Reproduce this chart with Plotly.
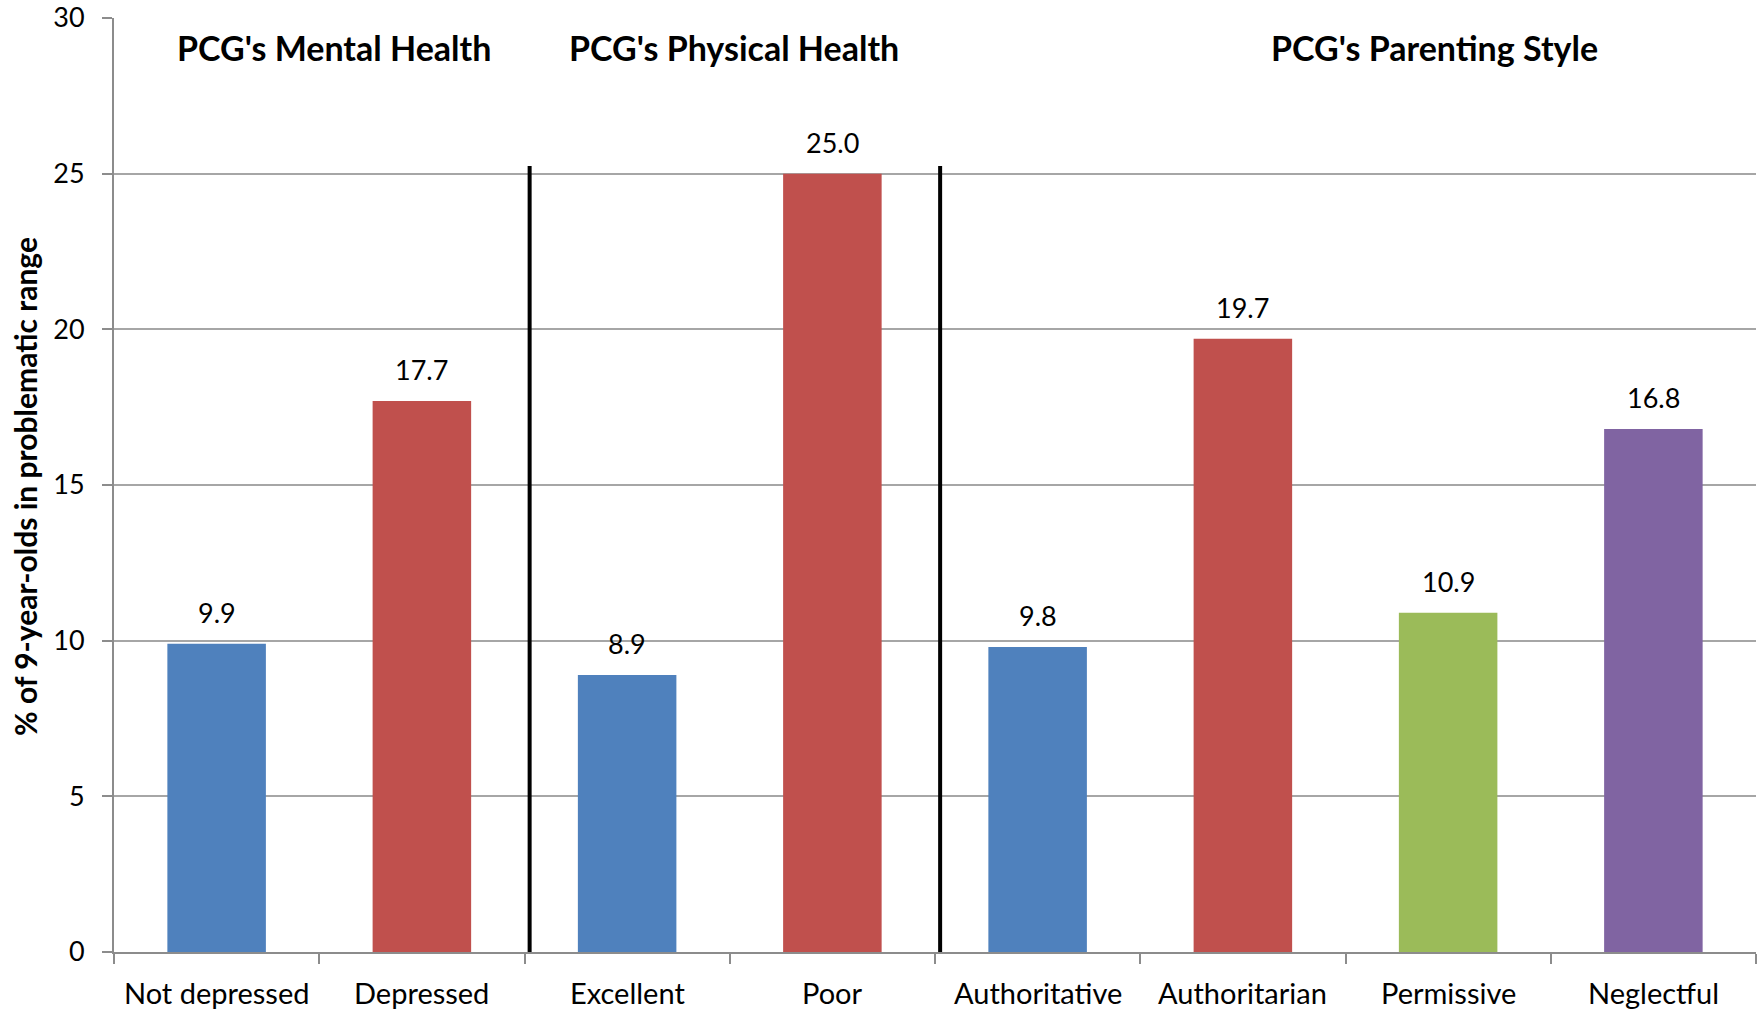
import plotly.graph_objects as go

# Categories, values and colours for each bar
categories = ["Not depressed", "Depressed", "Excellent", "Poor",
              "Authoritative", "Authoritarian", "Permissive", "Neglectful"]
values = [9.9, 17.7, 8.9, 25.0, 9.8, 19.7, 10.9, 16.8]
bar_colors = ["#4F81BD", "#C0504D", "#4F81BD", "#C0504D",
              "#4F81BD", "#C0504D", "#9BBB59", "#8064A2"]

# Group headings and the category span each covers (first, last index)
group_titles = ["PCG's Mental Health", "PCG's Physical Health", "PCG's Parenting Style"]
group_spans = [(0, 1), (2, 3), (4, 7)]
group_title_x = [0.574, 2.522, 5.932]

y_ticks = [0, 5, 10, 15, 20, 25, 30]
y_title = "% of 9-year-olds in problematic range"

FONT = "Lato, 'Open Sans', sans-serif"
x_pos = list(range(len(categories)))

fig = go.Figure()
fig.add_trace(go.Bar(
    x=categories,
    y=values,
    marker=dict(color=bar_colors, line=dict(width=0)),
    width=0.48,
    showlegend=False,
))

# Value labels above each bar
for xi, v in zip(x_pos, values):
    fig.add_annotation(x=xi, y=v, xref="x", yref="y", text=f"{v:.1f}",
                       showarrow=False, yanchor="middle", yshift=31,
                       font=dict(family=FONT, size=27, color="#000000"))

# Category labels under the axis
for xi, name in zip(x_pos, categories):
    fig.add_annotation(x=xi, y=0, xref="x", yref="y", text=name,
                       showarrow=False, yanchor="middle", yshift=-40,
                       font=dict(family=FONT, size=29, color="#000000"))

# Separator lines between the groups
for (a, b), (c, d) in zip(group_spans[:-1], group_spans[1:]):
    xb = (b + c) / 2 + 0.025
    fig.add_shape(type="line", xref="x", yref="y", x0=xb, x1=xb, y0=0, y1=25.25,
                  line=dict(color="#000000", width=4))

# Group headings
for title, gx in zip(group_titles, group_title_x):
    fig.add_annotation(x=gx, y=29.05, xref="x", yref="y", text=f"<b>{title}</b>",
                       showarrow=False, font=dict(family=FONT, size=34, color="#000000"),
                       xanchor="center", yanchor="middle")

# Vertical axis title
fig.add_annotation(x=0, y=0.5, xref="paper", yref="paper", text=f"<b>{y_title}</b>",
                   showarrow=False, textangle=-90, xanchor="center", yanchor="middle",
                   xshift=-89, yshift=-2,
                   font=dict(family=FONT, size=30, color="#000000"))

fig.update_layout(
    width=1762, height=1010,
    margin=dict(l=114, r=6, t=18, b=58, autoexpand=False),
    plot_bgcolor="#FFFFFF", paper_bgcolor="#FFFFFF",
    bargap=0.52,
    font=dict(family=FONT, size=27, color="#000000"),
)
fig.update_xaxes(
    type="category", categoryorder="array", categoryarray=categories,
    range=[-0.5, len(categories) - 0.5],
    showticklabels=False, automargin=False,
    showline=True, linecolor="#8C8C8C", linewidth=2,
    ticks="outside", tickson="boundaries", ticklen=10, tickcolor="#8C8C8C", tickwidth=2,
    showgrid=False, zeroline=False,
)
fig.update_yaxes(
    range=[0, 30], tickvals=y_ticks, automargin=False,
    showline=True, linecolor="#8C8C8C", linewidth=2,
    ticks="outside", ticklen=10, tickcolor="#8C8C8C", tickwidth=2,
    ticklabelstandoff=12,
    showgrid=True, gridcolor="#A6A6A6", gridwidth=2, zeroline=False,
    tickfont=dict(family=FONT, size=27, color="#000000"),
)

fig.write_html("out.html")
